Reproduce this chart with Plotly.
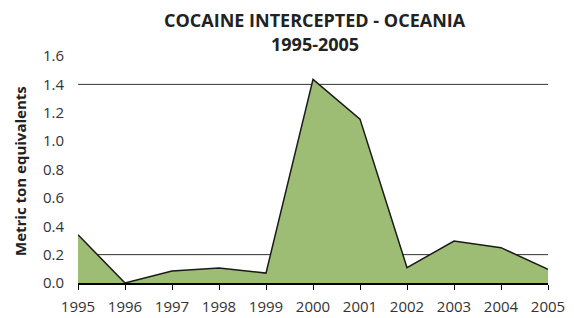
import plotly.graph_objects as go

years = [1995, 1996, 1997, 1998, 1999, 2000, 2001, 2002, 2003, 2004, 2005]
tons = [0.34, 0.0, 0.085, 0.105, 0.07, 1.435, 1.155, 0.108, 0.296, 0.249, 0.096]
y_ticks = [0.0, 0.2, 0.4, 0.6, 0.8, 1.0, 1.2, 1.4, 1.6]
grid_levels = [0.2, 1.4]

FONT = "Open Sans"
W, H = 574, 318
ML, MR, MT, MB = 78, 26, 56, 35
PW, PH = W - ML - MR, H - MT - MB

fig = go.Figure()
fig.add_trace(go.Scatter(
    x=years, y=tons, mode="lines", fill="tozeroy",
    fillcolor="#9dbd74", line=dict(color="#1a1a1a", width=1.5),
    hoverinfo="skip", showlegend=False,
))

shapes = [dict(type="line", xref="paper", x0=0, x1=1, yref="y", y0=g, y1=g,
               line=dict(color="#333333", width=1), layer="below") for g in grid_levels]

title_x = (315 - ML) / PW
fig.update_layout(
    width=W, height=H,
    margin=dict(l=ML, r=MR, t=MT, b=MB),
    paper_bgcolor="white", plot_bgcolor="white",
    font=dict(family=FONT, color="#333333", size=15),
    shapes=shapes,
    annotations=[
        dict(text="<b>COCAINE INTERCEPTED - OCEANIA</b>", xref="paper", yref="paper",
             x=title_x, y=1.0, yshift=MT - 20, showarrow=False, xanchor="center", yanchor="middle",
             font=dict(size=18, color="#222222", family=FONT)),
        dict(text="<b>1995-2005</b>", xref="paper", yref="paper",
             x=title_x, y=1.0, yshift=MT - 44, showarrow=False, xanchor="center", yanchor="middle",
             font=dict(size=18, color="#222222", family=FONT)),
        dict(text="<b>Metric ton equivalents</b>", xref="paper", yref="paper",
             x=0, xshift=20 - ML, y=(H - MB - 171) / PH, showarrow=False, textangle=-90,
             xanchor="center", yanchor="middle",
             font=dict(size=15, color="#222222", family=FONT)),
    ],
    xaxis=dict(
        range=[1995, 2005], tickvals=years, ticktext=[str(y) for y in years],
        showgrid=False, zeroline=False, showline=True, linecolor="#000000", linewidth=1.5,
        ticks="outside", ticklen=5, tickcolor="#000000", tickwidth=1,
        tickfont=dict(size=15, color="#333333"), automargin=False,
        ticklabelstandoff=4,
    ),
    yaxis=dict(
        range=[0, 1.6], tickvals=y_ticks, ticktext=[f"{v:.1f}" for v in y_ticks],
        showgrid=False, zeroline=False, showline=False, ticks="",
        tickfont=dict(size=15, color="#333333"), automargin=False,
        ticklabelstandoff=13,
    ),
)

fig.write_html("out.html", config={"displayModeBar": False},
               post_script="document.body.style.margin='0';document.body.style.overflow='hidden';")
